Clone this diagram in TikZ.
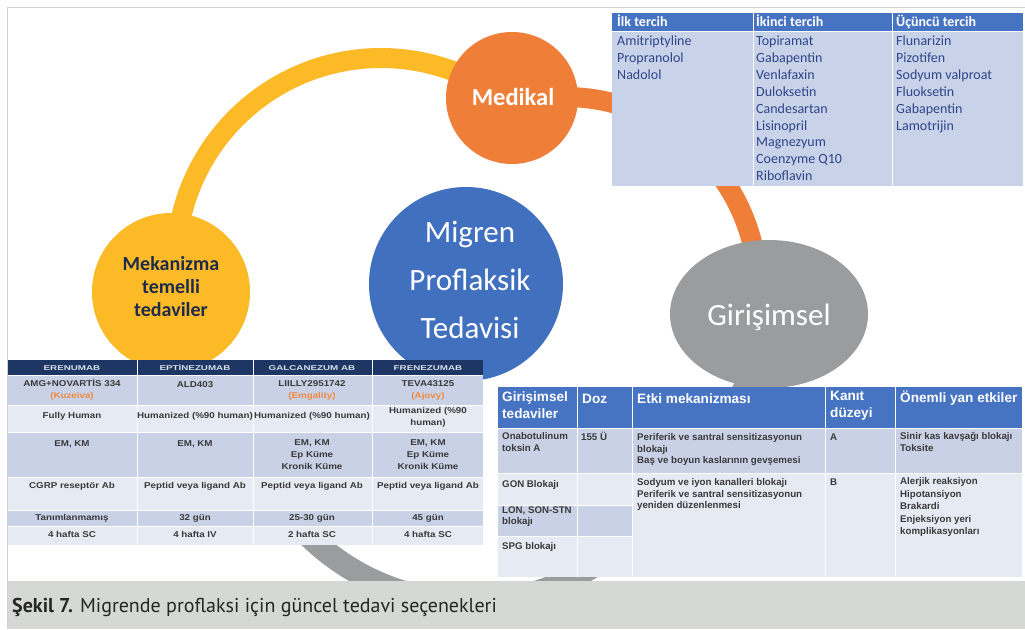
\documentclass[tikz,border=0pt]{standalone}
\usepackage{fontspec}
\usepackage{graphicx}
\setmainfont{Carlito}
\newfontfamily\arialfont{Liberation Sans}
\newfontfamily\wideheadfont[FakeStretch=1.4]{Liberation Sans}
\newfontfamily\cellfont[FakeStretch=1.15]{Liberation Sans}
\newfontfamily\captionfont{PT Sans}
\usetikzlibrary{shapes.geometric,calc}

\definecolor{ringyellow}{HTML}{FBBA26}
\definecolor{ringorange}{HTML}{EE7E38}
\definecolor{ringblue}{HTML}{4170BE}
\definecolor{ringgray}{HTML}{9B9C9D}
\definecolor{hdrblue}{HTML}{4673C2}
\definecolor{navyhdr}{HTML}{1E3663}
\definecolor{medbody}{HTML}{C8D2E8}
\definecolor{medtext}{HTML}{30458A}
\definecolor{rowdark}{HTML}{C9D1E6}
\definecolor{rowlight}{HTML}{E6EAF3}
\definecolor{captionbg}{HTML}{D6D8D5}
\definecolor{framegray}{HTML}{D2D2D2}
\definecolor{mekanavy}{HTML}{1F2B4A}
\definecolor{celltext}{HTML}{3A3A3A}
\definecolor{brandorange}{HTML}{F08A3C}
\definecolor{headtext}{HTML}{D8DEEA}

\begin{document}
\begin{tikzpicture}[x=1pt,y=-1pt,
  band/.style={line width=20pt},
  disc/.style={circle, inner sep=0pt, draw=none},
  oval/.style={ellipse, inner sep=0pt, draw=none},
  circlabel/.style={text=white, align=center, inner sep=0pt},
  sep/.style={white, line width=1pt},
  medhead/.style={font=\bfseries\fontsize{14}{16.9}\selectfont, text=white, anchor=base west, inner sep=0pt},
  medcell/.style={font=\fontsize{14}{16.9}\selectfont, text=medtext, align=left, anchor=north west, inner sep=0pt, execute at begin node=\strut},
  abhead/.style={font=\wideheadfont\bfseries\fontsize{7}{9}\selectfont, text=headtext, anchor=base, inner sep=0pt},
  abcell/.style={font=\cellfont\bfseries\fontsize{8.5}{12}\selectfont, text=celltext, align=center, inner sep=0pt, execute at begin node=\strut, execute at end node=\strut},
  ghead/.style={font=\arialfont\bfseries\fontsize{13.6}{17}\selectfont, text=white, align=left, anchor=north west, inner sep=0pt, execute at begin node=\strut},
  gcell/.style={font=\arialfont\bfseries\fontsize{9.7}{11.5}\selectfont, text=celltext, align=left, anchor=north west, inner sep=0pt, execute at begin node=\strut},
  gcellwide/.style={gcell, font=\arialfont\bfseries\fontsize{9.7}{12.5}\selectfont}
]
\useasboundingbox (0,0) rectangle (1025,629);
\fill[white] (0,0) rectangle (1025,629);

% ---- centres of the treatment groups ----
\coordinate (mekaC) at (171,292);
\coordinate (mediC) at (512,98);
\coordinate (giriC) at (769,314);
\coordinate (migrC) at (466,284);

% ---- ring segments linking the treatment groups ----
\coordinate (ringY) at (381,263);
\coordinate (ringO) at (565,290);
\coordinate (ringG) at (470,372);
\coordinate (yStart) at ($(ringY)+(185:205)$);
\draw[band, ringyellow] (yStart) arc[start angle=185, end angle=300, radius=205];
\coordinate (oStart) at ($(ringO)+(255:193)$);
\draw[band, ringorange] (oStart) arc[start angle=255, end angle=360, radius=193];
\coordinate (gStart) at ($(ringG)+(165:230)$);
\draw[line width=23pt, ringgray] (mekaC) .. controls (171,380) and (215,420) .. (gStart)
  arc[start angle=165, end angle=40, radius=230]
  .. controls (684,474) and (769,380) .. (giriC);

% ---- treatment group discs ----
\node[disc, fill=ringyellow, minimum size=158pt] (meka) at (mekaC) {};
\node[disc, fill=ringorange, minimum size=132pt] (medi) at (mediC) {};
\node[oval, fill=ringgray, minimum width=198pt, minimum height=148pt] (giri) at (giriC) {};
\node[disc, fill=ringblue, minimum size=194pt] (migr) at (migrC) {};

\node[font=\bfseries\fontsize{20}{23}\selectfont, text=mekanavy, align=center, inner sep=0pt]
  (mekaText) at (171,287) {Mekanizma\\temelli\\tedaviler};
\node[circlabel, font=\bfseries\fontsize{24.5}{28}\selectfont] (mediText) at (513,97) {Medikal};
\node[circlabel, font=\fontsize{31}{36}\selectfont] (giriText) at (769,317) {Girişimsel};
\node[circlabel, font=\fontsize{31}{48}\selectfont] (migrText) at (470,280) {Migren\\Proflaksik\\Tedavisi};

% ---- medical treatment table ----
\fill[hdrblue] (612,13) rectangle (1023,31);
\fill[medbody] (612,31) rectangle (1023,186);
\draw[sep] (612,31) -- (1023,31);
\draw[sep] (753,13) -- (753,186);
\draw[sep] (892,13) -- (892,186);
\node[medhead] (mh1) at (617,26.5) {İlk tercih};
\node[medhead] (mh2) at (756,26.5) {İkinci tercih};
\node[medhead] (mh3) at (896,26.5) {Üçüncü tercih};
\node[medcell] (mc1) at (617,35.7) {Amitriptyline\\Propranolol\\Nadolol};
\node[medcell] (mc2) at (756,35.7) {Topiramat\\Gabapentin\\Venlafaxin\\Duloksetin\\Candesartan\\Lisinopril\\Magnezyum\\Coenzyme Q10\\Riboflavin};
\node[medcell] (mc3) at (896,35.7) {Flunarizin\\Pizotifen\\Sodyum valproat\\Fluoksetin\\Gabapentin\\Lamotrijin};

% ---- monoclonal antibody table ----
\fill[navyhdr] (8,360) rectangle (483,375);
\fill[rowdark]  (8,375) rectangle (483,405);
\fill[rowlight] (8,405) rectangle (483,432);
\fill[rowdark]  (8,432) rectangle (483,477);
\fill[rowlight] (8,477) rectangle (483,510);
\fill[rowdark]  (8,510) rectangle (483,526);
\fill[rowlight] (8,526) rectangle (483,545);
\foreach \yy in {375,405,432,477,510,526} \draw[white, line width=0.6pt] (8,\yy) -- (483,\yy);
\foreach \xx in {137,253,372} \draw[white, line width=0.8pt] (\xx,360) -- (\xx,545);

\node[abhead] (ah1) at (72,370) {ERENUMAB};
\node[abhead] (ah2) at (195,370) {EPTİNEZUMAB};
\node[abhead] (ah3) at (312,370) {GALCANEZUM AB};
\node[abhead] (ah4) at (428,370) {FRENEZUMAB};

\node[abcell] (a11) at (72,391) {AMG+NOVARTİS 334\\{\color{brandorange}(Kuzeiva)}};
\node[abcell] (a12) at (195,385) {ALD403};
\node[abcell] (a13) at (312,391) {LIILLY2951742\\{\color{brandorange}(Emgality)}};
\node[abcell] (a14) at (428,391) {TEVA43125\\{\color{brandorange}(Ajovy)}};

\node[abcell] (a21) at (72,416) {Fully Human};
\node[abcell] (a22) at (195,416) {Humanized (\%90 human)};
\node[abcell] (a23) at (312,416) {Humanized (\%90 human)};
\node[abcell] (a24) at (428,418.5) {Humanized (\%90\\human)};

\node[abcell] (a31) at (72,444) {EM, KM};
\node[abcell] (a32) at (195,444) {EM, KM};
\node[abcell] (a33) at (312,456) {EM, KM\\Ep Küme\\Kronik Küme};
\node[abcell] (a34) at (428,456) {EM, KM\\Ep Küme\\Kronik Küme};

\node[abcell] (a41) at (72,486) {CGRP reseptör Ab};
\node[abcell] (a42) at (195,486) {Peptid veya ligand Ab};
\node[abcell] (a43) at (312,486) {Peptid veya ligand Ab};
\node[abcell] (a44) at (428,486) {Peptid veya ligand Ab};

\node[abcell] (a51) at (72,518) {Tanımlanmamış};
\node[abcell] (a52) at (195,518) {32 gün};
\node[abcell] (a53) at (312,518) {25-30 gün};
\node[abcell] (a54) at (428,518) {45 gün};

\node[abcell] (a61) at (72,535) {4 hafta SC};
\node[abcell] (a62) at (195,535) {4 hafta IV};
\node[abcell] (a63) at (312,535) {2 hafta SC};
\node[abcell] (a64) at (428,535) {4 hafta SC};

% ---- interventional treatment table ----
\fill[hdrblue] (498,387) rectangle (1022,428);
\fill[rowdark]  (498,428) rectangle (1022,473);
\fill[rowlight] (498,473) rectangle (1022,577);
\fill[rowdark]  (498,505) rectangle (632,536);
\draw[sep] (498,428) -- (1022,428);
\draw[sep] (498,473) -- (1022,473);
\draw[white, line width=0.6pt] (498,505) -- (632,505);
\draw[white, line width=0.6pt] (498,536) -- (632,536);
\foreach \xx in {577,632,825,895} \draw[sep] (\xx,387) -- (\xx,577);

\node[ghead] (gh1) at (502,391) {Girişimsel\\tedaviler};
\node[ghead] (gh2) at (582,391) {Doz};
\node[ghead] (gh3) at (637,391) {Etki mekanizması};
\node[ghead] (gh4) at (830,391) {Kanıt\\düzeyi};
\node[ghead] (gh5) at (900,390) {Önemli yan etkiler};

\node[gcell] (g11) at (502,432.3) {Onabotulinum\\toksin A};
\node[gcell] (g12) at (581,432.3) {155 Ü};
\node[gcell] (g13) at (637,433.3) {Periferik ve santral sensitizasyonun\\blokajı\\Baş ve boyun kaslarının gevşemesi};
\node[gcell] (g14) at (830,432.3) {A};
\node[gcell] (g15) at (900,432.3) {Sinir kas kavşağı blokajı\\Toksite};

\node[gcell] (g21) at (502,479.3) {GON Blokajı};
\node[gcell] (g31) at (502,506.3) {LON, SON-STN\\blokajı};
\node[gcell] (g41) at (502,541.3) {SPG blokajı};
\node[gcell] (g23) at (637,478.3) {Sodyum ve iyon kanalleri blokajı\\Periferik ve santral sensitizasyonun\\yeniden düzenlenmesi};
\node[gcell] (g24) at (830,477.3) {B};
\node[gcellwide] (g25) at (900,477.3) {Alerjik reaksiyon\\Hipotansiyon\\Brakardi\\Enjeksiyon yeri\\komplikasyonları};

% ---- frame and caption ----
\fill[captionbg] (7,581) rectangle (1025,629);
\draw[framegray, line width=1pt] (7,629) -- (7,7) -- (1025,7);
\node[anchor=base west, inner sep=0pt, font=\captionfont\fontsize{20}{23}\selectfont, text=black!85] (caption) at (12,612)
  {\textbf{Şekil 7.} Migrende proflaksi için güncel tedavi seçenekleri};
\end{tikzpicture}
\end{document}
